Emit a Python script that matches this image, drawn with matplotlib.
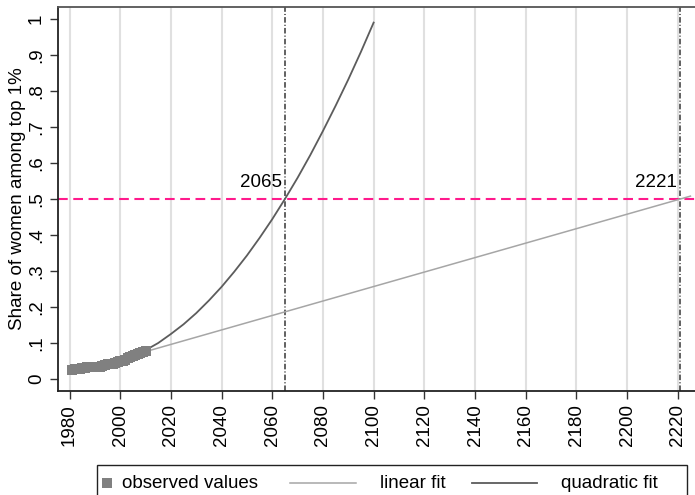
import matplotlib
matplotlib.use("Agg")
import matplotlib.pyplot as plt
from matplotlib.lines import Line2D
from matplotlib.patches import Rectangle

plt.rcParams['font.family'] = ['Liberation Sans', 'DejaVu Sans']
plt.rcParams['lines.scale_dashes'] = False

# Observed share of women among the top 1%
obs_years = list(range(1981, 2011))
obs_share = [0.026, 0.027, 0.028, 0.029, 0.030, 0.031, 0.032, 0.033, 0.033,
             0.033, 0.034, 0.034, 0.037, 0.039, 0.041, 0.042, 0.043, 0.045,
             0.047, 0.049, 0.051, 0.054, 0.057, 0.060, 0.063, 0.066, 0.069,
             0.072, 0.075, 0.079]

# Linear projection
lin_years = [2010, 2225]
lin_share = [0.076, 0.508]

# Quadratic projection
quad_years = [2010, 2015, 2020, 2025, 2030, 2035, 2040, 2045, 2050, 2055,
              2060, 2065, 2070, 2075, 2080, 2085, 2090, 2095, 2100]
quad_share = [0.080, 0.100, 0.125, 0.152, 0.183, 0.218, 0.256, 0.298, 0.343,
              0.392, 0.444, 0.500, 0.559, 0.622, 0.689, 0.759, 0.832, 0.909,
              0.990]

# Parity crossing years
parity = 0.5
cross_years = [2065, 2221]
cross_labels = ["2065", "2221"]

x_ticks = list(range(1980, 2221, 20))
y_ticks = [0, .1, .2, .3, .4, .5, .6, .7, .8, .9, 1]
y_ticklabels = ["0", ".1", ".2", ".3", ".4", ".5", ".6", ".7", ".8", ".9", "1"]

W, H = 695, 495
fig = plt.figure(figsize=(W / 100, H / 100), dpi=100)
ax = fig.add_axes([58 / W, (H - 391) / H, (695 - 58) / W, (391 - 7) / H])

ax.set_xlim(1975.46, 2226.8)
ax.set_ylim(-0.0333, 1.0333)

for xt in x_ticks:
    ax.axvline(xt, color='#e0e0e0', lw=1.5, zorder=0)

ax.axhline(parity, color='#ff1a8c', lw=1.5, dashes=(7, 4), zorder=2)
for yr, lab in zip(cross_years, cross_labels):
    ax.axvline(yr, color='#555555', lw=1.3, dashes=(4, 1.5, 0.8, 1.5), zorder=2)
    ax.annotate(lab, xy=(yr, parity), xytext=(-3, 12), textcoords='offset pixels',
                ha='right', va='baseline', fontsize=13.5)

ax.plot(lin_years, lin_share, color='#a6a6a6', lw=1.1, zorder=3)
ax.plot(quad_years, quad_share, color='#5c5c5c', lw=1.3, zorder=3)
ax.plot(obs_years, obs_share, ls='none', marker='s', ms=7.2, mew=0,
        color='#808080', zorder=4)

ax.set_xticks(x_ticks)
ax.set_xticklabels([str(v) for v in x_ticks], rotation=90, fontsize=13.5)
ax.set_yticks(y_ticks)
ax.set_yticklabels(y_ticklabels, rotation=90, va='center', fontsize=13.5)
ax.tick_params(axis='both', length=5.5, width=1, color='#333333', pad=4)
ax.set_ylabel("Share of women among top 1%", fontsize=13.5, labelpad=1)

ax.spines['right'].set_visible(False)
for s in ['left', 'bottom']:
    ax.spines[s].set_color('#222222')
    ax.spines[s].set_linewidth(1.3)
ax.spines['top'].set_color('#555555')
ax.spines['top'].set_linewidth(1.3)

# Legend box along the bottom edge
ly = 1 - 483 / H
fig.add_artist(Rectangle((97 / W, -0.02), (687 - 97) / W, (H - 465) / H + 0.02,
                         transform=fig.transFigure, fill=True, facecolor='white',
                         edgecolor='#222222', lw=1.0))
fig.add_artist(Line2D([107 / W], [ly], transform=fig.transFigure, marker='s',
                      ms=6.5, mew=0, color='#808080', ls='none'))
fig.text(122 / W, ly, "observed values", fontsize=13.5, va='center', ha='left')
fig.add_artist(Line2D([290 / W, 356 / W], [ly, ly], transform=fig.transFigure,
                      color='#a6a6a6', lw=1.1))
fig.text(380 / W, ly, "linear fit", fontsize=13.5, va='center', ha='left')
fig.add_artist(Line2D([472 / W, 537 / W], [ly, ly], transform=fig.transFigure,
                      color='#5c5c5c', lw=1.3))
fig.text(561 / W, ly, "quadratic fit", fontsize=13.5, va='center', ha='left')

fig.savefig("out.png", dpi=100)
